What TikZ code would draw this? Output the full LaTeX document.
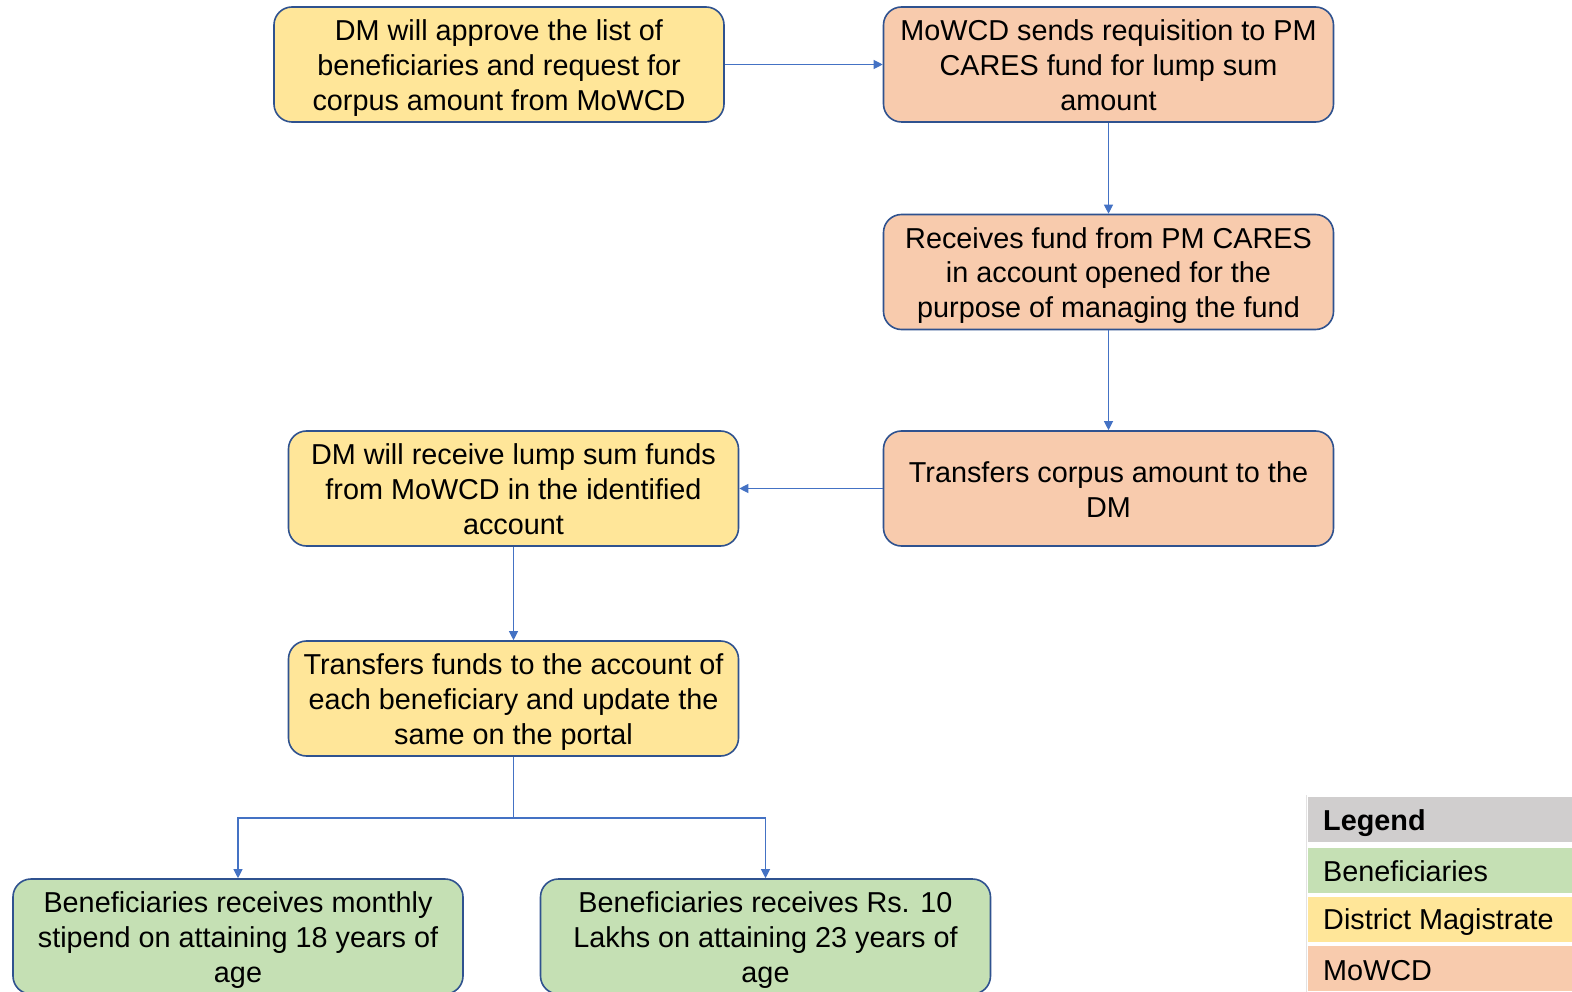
\documentclass[tikz,border=0pt]{standalone}
\usepackage{fontspec}
\setmainfont{Liberation Sans}
\usetikzlibrary{arrows.meta}
\definecolor{dmy}{HTML}{FFE699}
\definecolor{mow}{HTML}{F8CBAD}
\definecolor{ben}{HTML}{C5E0B4}
\definecolor{leg}{HTML}{D0CECE}
\definecolor{bord}{HTML}{2F528F}
\definecolor{arr}{HTML}{4472C4}
\begin{document}
\begin{tikzpicture}[x=1pt,y=1pt,
  box/.style={draw=bord, line width=1.6pt, rounded corners=18pt, minimum width=450pt, minimum height=115pt, inner sep=0pt},
  lbl/.style={inner sep=0pt, align=center, yshift=-4pt, font=\fontsize{28.8}{35}\selectfont},
  dmbox/.style={box, fill=dmy},
  mobox/.style={box, fill=mow},
  bebox/.style={box, fill=ben},
  conn/.style={draw=arr, line width=1.1pt, -{Triangle[width=9pt,length=9pt]}},
  legcell/.style={minimum width=280pt, minimum height=45pt, inner sep=0pt, anchor=north west},
  legtext/.style={anchor=west, inner sep=0pt, font=\fontsize{28.8}{34}\selectfont}
]
\useasboundingbox (0,0) rectangle (1572,-992);
\fill[white] (0,0) rectangle (1572,-992);

\node[dmbox, label={[lbl]center:{\strut DM will approve the list of\\beneficiaries and request for\\corpus amount from MoWCD\strut}}] (b1) at (499,-64.5) {};
\node[mobox, label={[lbl]center:{\strut MoWCD sends requisition to PM\\CARES fund for lump sum\\amount\strut}}] (b2) at (1108.5,-64.5) {};
\node[mobox, label={[lbl]center:{\strut Receives fund from PM CARES\\in account opened for the\\purpose of managing the fund\strut}}] (b3) at (1108.5,-272) {};
\node[mobox, label={[lbl]center:{\strut Transfers corpus amount to the\\DM\strut}}] (b4) at (1108.5,-488.5) {};
\node[dmbox, label={[lbl]center:{\strut DM will receive lump sum funds\\from MoWCD in the identified\\account\strut}}] (b5) at (513.5,-488.5) {};
\node[dmbox, label={[lbl]center:{\strut Transfers funds to the account of\\each beneficiary and update the\\same on the portal\strut}}] (b6) at (513.5,-698.5) {};
\node[bebox, label={[lbl]center:{\strut Beneficiaries receives monthly\\stipend on attaining 18 years of\\age\strut}}] (b7) at (238,-936.5) {};
\node[bebox, label={[lbl]center:{\strut Beneficiaries receives Rs. 10\\Lakhs on attaining 23 years of\\age\strut}}] (b8) at (765.5,-936.5) {};

\draw[conn] (b1.east) -- (b2.west);
\draw[conn] (b2.south) -- (b3.north);
\draw[conn] (b3.south) -- (b4.north);
\draw[conn] (b4.west) -- (b5.east);
\draw[conn] (b5.south) -- (b6.north);
\coordinate (j) at (513.5,-818);
\draw[draw=arr, line width=1.1pt] (b6.south) -- (j);
\draw[conn] (j) -| (b7.north);
\draw[conn] (j) -| (b8.north);

% legend
\draw[draw=leg!60, line width=0.8pt] (1306,-795) -- (1306,-992);
\node[legcell, fill=leg] (lh) at (1308,-797) {};
\node[legcell, fill=ben] (l1) at (1308,-848) {};
\node[legcell, fill=dmy] (l2) at (1308,-897) {};
\node[legcell, fill=mow] (l3) at (1308,-946) {};
\node[legtext, font=\fontsize{28.8}{34}\selectfont\bfseries] (th) at (1323,-823.5) {Legend};
\node[legtext] (t1) at (1323,-871) {Beneficiaries};
\node[legtext] (t2) at (1323,-922.5) {District Magistrate};
\node[legtext] (t3) at (1323,-971) {MoWCD};
\end{tikzpicture}
\end{document}
